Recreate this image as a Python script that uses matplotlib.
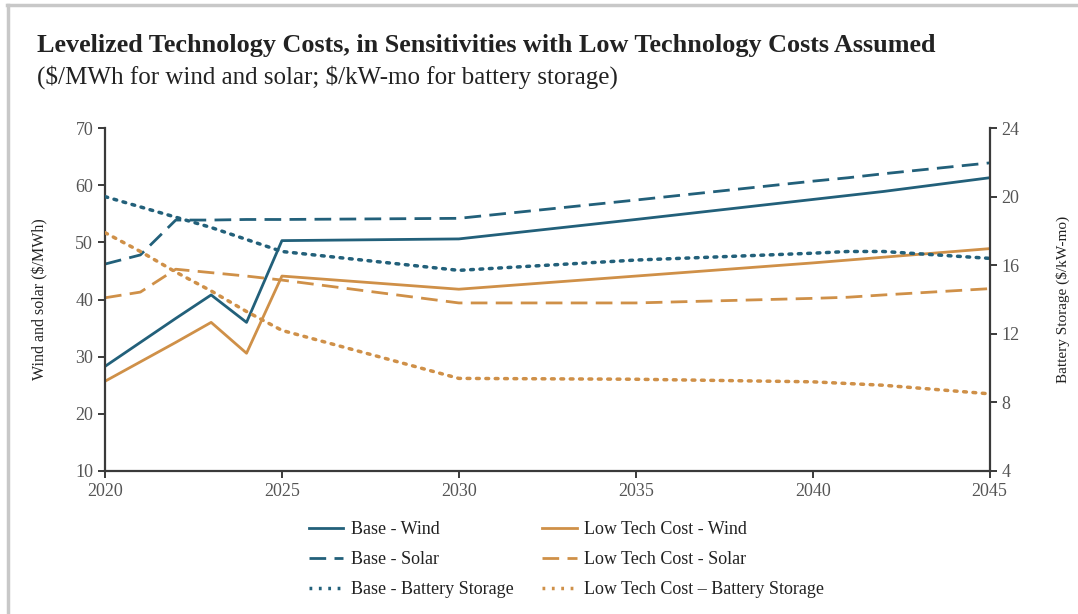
import matplotlib
matplotlib.use("Agg")
import matplotlib.pyplot as plt
from matplotlib.lines import Line2D

years = [2020, 2021, 2022, 2023, 2024, 2025, 2030, 2035, 2040, 2041, 2042, 2045]

base_wind = [28.3, 32.5, 36.7, 40.8, 36.0, 50.3, 50.6, 54.0, 57.5, 58.2, 58.9, 61.3]
base_solar = [46.2, 47.8, 53.9, 53.9, 54.0, 54.0, 54.2, 57.4, 60.7, 61.3, 62.0, 63.9]
low_wind = [25.7, 29.1, 32.5, 36.0, 30.6, 44.1, 41.8, 44.1, 46.4, 46.9, 47.4, 48.9]
low_solar = [40.3, 41.3, 45.3, 44.7, 44.1, 43.4, 39.4, 39.4, 40.2, 40.4, 40.8, 41.9]
base_batt = [20.0, 19.4, 18.8, 18.2, 17.5, 16.8, 15.7, 16.3, 16.7, 16.8, 16.8, 16.4]
low_batt = [17.9, 16.8, 15.6, 14.5, 13.3, 12.2, 9.4, 9.35, 9.2, 9.1, 9.0, 8.5]

left_ticks = [10, 20, 30, 40, 50, 60, 70]
right_ticks = [4, 8, 12, 16, 20, 24]
x_ticks = [2020, 2025, 2030, 2035, 2040, 2045]

title = "Levelized Technology Costs, in Sensitivities with Low Technology Costs Assumed"
subtitle = "($/MWh for wind and solar; $/kW-mo for battery storage)"

TEAL = "#22607A"
ORANGE = "#CF9048"
SPINE = "#3a3a3a"
TICKC = "#555555"
FONT = ["Liberation Serif", "DejaVu Serif"]

plt.rcParams["font.family"] = FONT
plt.rcParams["text.parse_math"] = False

fig = plt.figure(figsize=(10.78, 6.14), dpi=100)
ax = fig.add_axes([0.0974, 0.2329, 0.8206, 0.5586])
ax2 = ax.twinx()

lw = 2.0
DASH = (0, (6, 3))
DOT = (0, (0.8, 1.9))
ax.plot(years, base_wind, color=TEAL, lw=lw, ls="-")
ax.plot(years, base_solar, color=TEAL, lw=lw, ls=DASH)
ax.plot(years, low_wind, color=ORANGE, lw=lw, ls="-")
ax.plot(years, low_solar, color=ORANGE, lw=lw, ls=DASH)
ax2.plot(years, base_batt, color=TEAL, lw=2.5, ls=DOT, dash_capstyle="round")
ax2.plot(years, low_batt, color=ORANGE, lw=2.5, ls=DOT, dash_capstyle="round")

ax.set_xlim(2020, 2045)
ax.set_ylim(10, 70)
ax2.set_ylim(4, 24)
ax.set_xticks(x_ticks)
ax.set_yticks(left_ticks)
ax2.set_yticks(right_ticks)

for a in (ax, ax2):
    a.spines["top"].set_visible(False)
    for s in ("left", "right", "bottom"):
        a.spines[s].set_color(SPINE)
        a.spines[s].set_linewidth(1.6)
    a.tick_params(axis="both", direction="out", length=5, width=1.4, color=SPINE,
                  labelsize=13, labelcolor=TICKC)
ax.spines["right"].set_visible(False)
ax2.spines["left"].set_visible(False)
ax2.spines["bottom"].set_visible(False)

ax.set_ylabel("Wind and solar ($/MWh)", fontsize=11.5, color="#222222", labelpad=19)
ax2.set_ylabel("Battery Storage ($/kW-mo)", fontsize=11, color="#222222", labelpad=26)

fig.text(0.034, 0.915, title, fontsize=18.8, fontweight="bold", color="#222222", ha="left", va="baseline")
fig.text(0.034, 0.864, subtitle, fontsize=18, color="#222222", ha="left", va="baseline")

handles = [
    Line2D([], [], color=TEAL, lw=2.0, ls="-"),
    Line2D([], [], color=TEAL, lw=2.0, ls=DASH),
    Line2D([], [], color=TEAL, lw=2.5, ls=DOT),
    Line2D([], [], color=ORANGE, lw=2.0, ls="-"),
    Line2D([], [], color=ORANGE, lw=2.0, ls=DASH),
    Line2D([], [], color=ORANGE, lw=2.5, ls=DOT),
]
labels = ["Base - Wind", "Base - Solar", "Base - Battery Storage",
          "Low Tech Cost - Wind", "Low Tech Cost - Solar", "Low Tech Cost \u2013 Battery Storage"]
fig.legend(handles, labels, ncol=2, loc="center", bbox_to_anchor=(0.5255, 0.089),
           frameon=False, fontsize=13, handlelength=1.9, handletextpad=0.4,
           columnspacing=1.6, labelspacing=0.72, labelcolor="#222222")

# light gray frame lines (top & left)
fig.add_artist(Line2D([0.0065, 1.0], [0.992, 0.992], transform=fig.transFigure, color="#c8c8c8", lw=2.5))
fig.add_artist(Line2D([0.0075, 0.0075], [0.0, 0.992], transform=fig.transFigure, color="#c8c8c8", lw=2.5))

fig.savefig("out.png", dpi=100)
